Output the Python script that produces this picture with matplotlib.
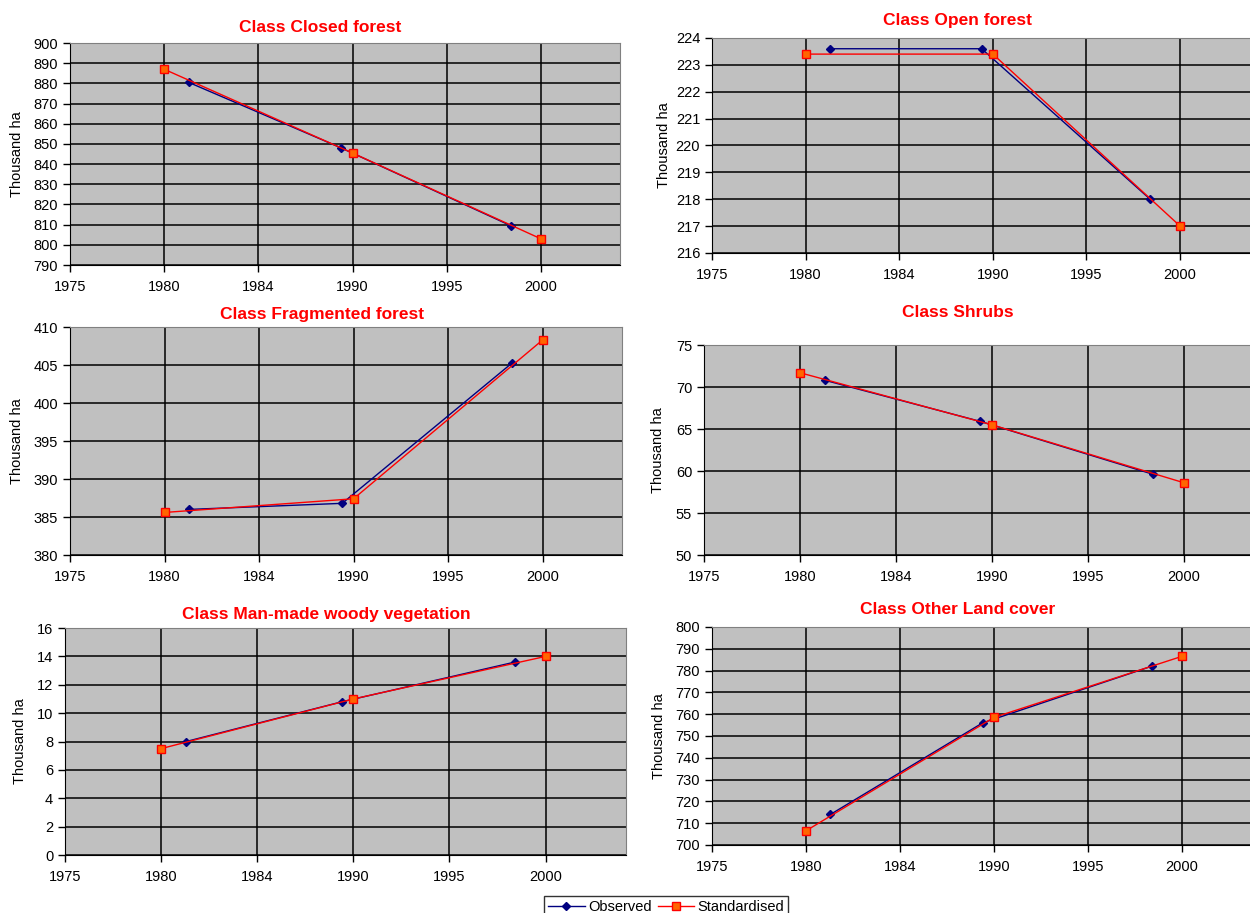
import matplotlib.pyplot as plt

plt.rcParams['font.family'] = ['Liberation Sans', 'DejaVu Sans']

# years of the two series
obs_years = [1981.3, 1989.4, 1998.4]
std_years = [1980, 1990, 2000]
xtick_pos = [1975, 1980, 1985, 1990, 1995, 2000]
xtick_labels = ['1975', '1980', '1984', '1990', '1995', '2000']

titles = ['Class Closed forest', 'Class Open forest', 'Class Fragmented forest',
          'Class Shrubs', 'Class Man-made woody vegetation', 'Class Other Land cover']

closed_obs = [880.5, 848, 809.5]
closed_std = [887, 845.5, 803]
open_obs = [223.6, 223.6, 218.0]
open_std = [223.4, 223.4, 217.0]
frag_obs = [386.0, 386.8, 405.3]
frag_std = [385.6, 387.4, 408.3]
shrub_obs = [70.8, 65.9, 59.6]
shrub_std = [71.7, 65.5, 58.6]
man_obs = [8.0, 10.8, 13.6]
man_std = [7.5, 11.0, 14.0]
other_obs = [714, 756, 782]
other_std = [706.5, 758.5, 786.5]

obs_all = [closed_obs, open_obs, frag_obs, shrub_obs, man_obs, other_obs]
std_all = [closed_std, open_std, frag_std, shrub_std, man_std, other_std]
ylims = [(790, 900, 10), (216, 224, 1), (380, 410, 5), (50, 75, 5), (0, 16, 2), (700, 800, 10)]

# axes rectangles [left, bottom, width, height] in figure fraction
rects = [[0.056, 0.7097, 0.440, 0.2432],
         [0.5696, 0.7229, 0.4374, 0.2355],
         [0.056, 0.3921, 0.4416, 0.2497],
         [0.5632, 0.3921, 0.4485, 0.2300],
         [0.052, 0.0635, 0.4490, 0.2486],
         [0.5696, 0.0745, 0.4390, 0.2388]]
title_pos = [(0.256, 0.970), (0.766, 0.978), (0.258, 0.655), (0.766, 0.658), (0.261, 0.327), (0.766, 0.332)]
ylab_x = [0.014, 0.531, 0.014, 0.526, 0.016, 0.527]

fig = plt.figure(figsize=(12.5, 9.13), dpi=100)

for i in range(6):
    ax = fig.add_axes(rects[i])
    ax.set_facecolor('#C0C0C0')
    lo, hi, step = ylims[i]
    l1, = ax.plot(obs_years, obs_all[i], color='#000080', lw=1, marker='D', ms=4.5,
                  markerfacecolor='#000080', markeredgecolor='#000080', zorder=3)
    l2, = ax.plot(std_years, std_all[i], color='#FF0000', lw=1, marker='s', ms=6,
                  markerfacecolor='#FF6600', markeredgecolor='#FF0000', zorder=4)
    ax.set_xlim(1975, 2004.2)
    ax.set_ylim(lo, hi)
    ax.set_yticks(range(lo, hi + 1, step))
    ax.set_xticks(xtick_pos)
    ax.set_xticklabels(xtick_labels)
    ax.grid(True, color='black', lw=1.1)
    ax.set_axisbelow(True)
    ax.tick_params(direction='out', length=5, width=1, labelsize=10.5, colors='black')
    ax.tick_params(axis='x', pad=6)
    for s in ['top', 'right']:
        ax.spines[s].set_color('#808080')
    for s in ['left', 'bottom']:
        ax.spines[s].set_color('black')
    cy = rects[i][1] + rects[i][3] / 2
    fig.text(ylab_x[i], cy, 'Thousand ha', rotation=90, ha='center', va='center', fontsize=10.5)
    fig.text(title_pos[i][0], title_pos[i][1], titles[i], color='#FF0000', fontweight='bold',
             fontsize=12.5, ha='center', va='center')

leg = fig.legend([l1, l2], ['Observed', 'Standardised'], loc='lower center',
                 bbox_to_anchor=(0.533, -0.01), ncol=2, fontsize=10.5, frameon=True,
                 fancybox=False, edgecolor='black', handlelength=2.5, columnspacing=0.4,
                 handletextpad=0.25, borderpad=0.25, borderaxespad=0.3, markerscale=1)
leg.get_frame().set_linewidth(1)

fig.savefig('out.png', dpi=100)
